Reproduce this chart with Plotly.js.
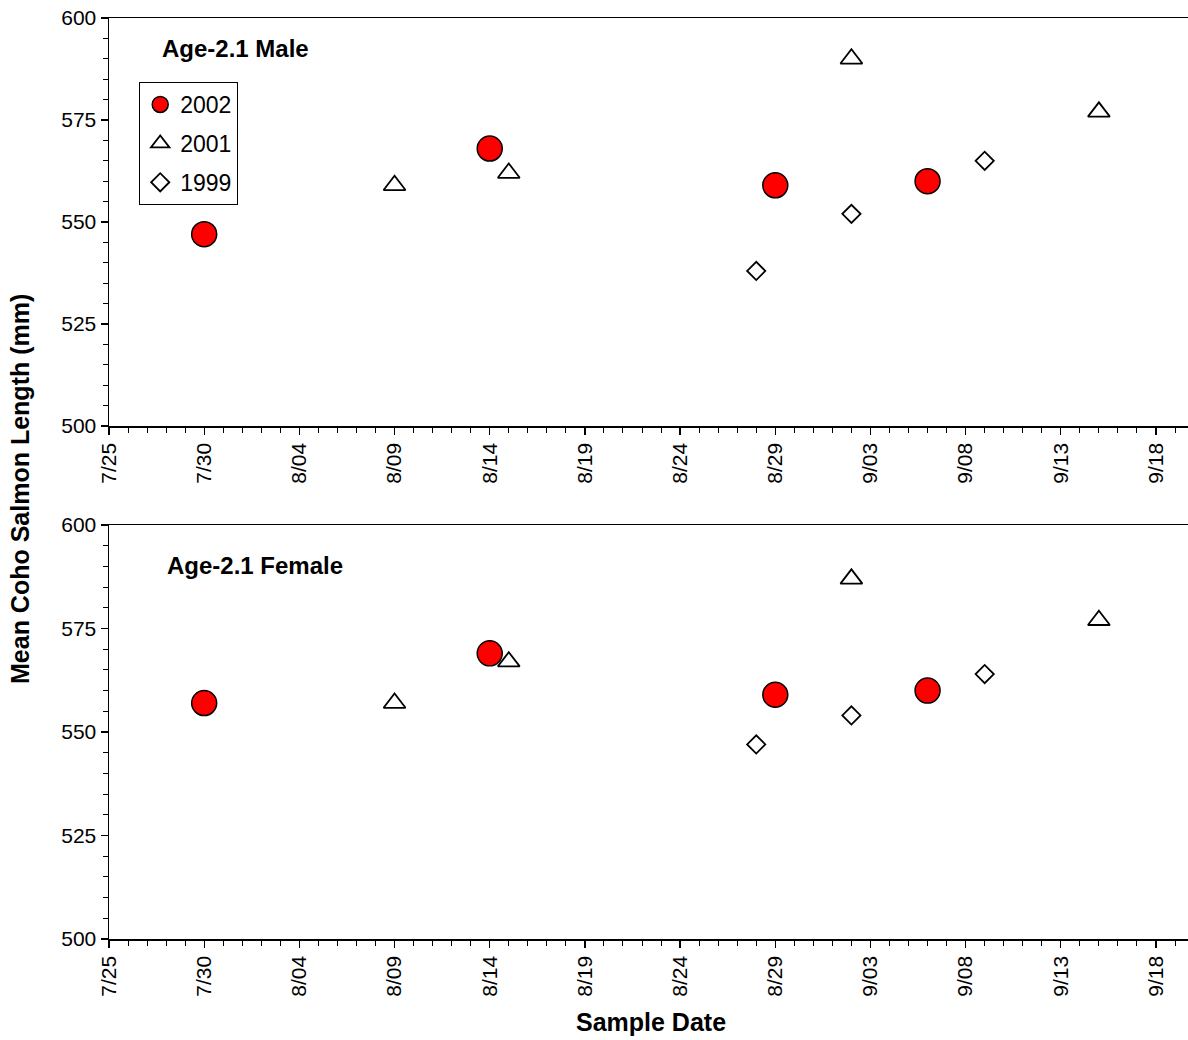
<!DOCTYPE html>
<html>
<head>
<meta charset="utf-8">
<script src="https://cdn.plot.ly/plotly-3.0.1.min.js"></script>
<style>html,body{margin:0;padding:0;background:#fff;}#chart{width:1188px;height:1040px;}</style>
</head>
<body>
<div id="chart"></div>
<script>
// ---- Data (sample dates plotted on a common calendar, year 2002 used as reference) ----
const dates2002 = ['2002-07-30', '2002-08-14', '2002-08-29', '2002-09-06'];
const dates2001 = ['2002-08-09', '2002-08-15', '2002-09-02', '2002-09-15'];
const dates1999 = ['2002-08-28', '2002-09-02', '2002-09-09'];

const male2002 = [547, 568, 559, 560];
const male2001 = [559, 562, 590, 577];
const male1999 = [538, 552, 565];

const female2002 = [557, 569, 559, 560];
const female2001 = [557, 567, 587, 577];
const female1999 = [547, 554, 564];

const seriesNames = ['2002', '2001', '1999'];
const panelLabels = ['Age-2.1 Male', 'Age-2.1 Female'];
const yTitle = 'Mean Coho Salmon Length (mm)';
const xTitle = 'Sample Date';

const FONT = 'Arial, "Liberation Sans", sans-serif';
const DAY = 86400000;

const mk = {
  '2002': {symbol: 'circle', size: 25, color: '#ff0000', line: {color: '#000', width: 1.5}},
  '2001': {symbol: 'triangle-up-open', size: 19, color: '#000', line: {color: '#000', width: 1.8}},
  '1999': {symbol: 'diamond-open', size: 14, color: '#000', line: {color: '#000', width: 1.8}}
};

function tr(x, y, name, xa, ya, show) {
  return {x: x, y: y, name: name, type: 'scatter', mode: 'markers',
    xaxis: xa, yaxis: ya, marker: mk[name], showlegend: show,
    legendgroup: name, cliponaxis: false};
}

const data = [
  tr(dates2002, male2002, seriesNames[0], 'x', 'y', true),
  tr(dates2001, male2001, seriesNames[1], 'x', 'y', true),
  tr(dates1999, male1999, seriesNames[2], 'x', 'y', true),
  tr(dates2002, female2002, seriesNames[0], 'x2', 'y2', false),
  tr(dates2001, female2001, seriesNames[1], 'x2', 'y2', false),
  tr(dates1999, female1999, seriesNames[2], 'x2', 'y2', false)
];

const xRange = ['2002-07-25', '2002-09-19 16:20'];
const topDom = [0.557, 1];
const botDom = [0, 0.4495];

function xAx(anchor, extra) {
  return Object.assign({
    type: 'date', range: xRange, anchor: anchor,
    tick0: '2002-07-25', dtick: 5 * DAY, tickformat: '%-m/%d', tickangle: -90,
    ticks: 'outside', ticklen: 7, tickwidth: 1.2, tickcolor: '#000',
    showline: true, linecolor: '#000', linewidth: 1.5, mirror: true,
    showgrid: false, zeroline: false,
    tickfont: {family: FONT, size: 21, color: '#000'},
    minor: {tick0: '2002-07-25', dtick: DAY, ticks: 'outside', ticklen: 5, tickwidth: 1, tickcolor: '#000', showgrid: false}
  }, extra || {});
}
function yAx(anchor, dom, extra) {
  return Object.assign({
    range: [500, 600], domain: dom, anchor: anchor,
    tick0: 500, dtick: 25, ticks: 'outside', ticklen: 7, tickwidth: 1.2, tickcolor: '#000',
    showline: true, linecolor: '#000', linewidth: 1.5, mirror: false,
    showgrid: false, zeroline: false,
    tickfont: {family: FONT, size: 21, color: '#000'},
    minor: {tick0: 500, dtick: 5, ticks: 'outside', ticklen: 5, tickwidth: 1, tickcolor: '#000', showgrid: false}
  }, extra || {});
}
function innerX(over, anchor) {
  return {type: 'date', range: xRange, overlaying: over, anchor: anchor,
    tick0: '2002-07-25', dtick: 5 * DAY, ticks: 'inside', ticklen: 7, tickwidth: 1.2,
    tickcolor: '#000', showticklabels: false, showline: false, showgrid: false, zeroline: false};
}
function innerY(over, anchor) {
  return {range: [500, 600], overlaying: over, anchor: anchor,
    tick0: 500, dtick: 25, ticks: 'inside', ticklen: 7, tickwidth: 1.2,
    tickcolor: '#000', showticklabels: false, showline: false, showgrid: false, zeroline: false};
}

const layout = {
  width: 1188, height: 1040,
  margin: {l: 109, r: 0, t: 18, b: 101},
  paper_bgcolor: '#fff', plot_bgcolor: 'rgba(0,0,0,0)',
  font: {family: FONT, color: '#000'},
  xaxis: xAx('y', {domain: [0, 1]}),
  yaxis: yAx('x', topDom),
  xaxis2: xAx('y2', {domain: [0, 1]}),
  yaxis2: yAx('x2', botDom),
  xaxis3: innerX('x', 'y'),
  yaxis3: innerY('y', 'x'),
  xaxis4: innerX('x2', 'y2'),
  yaxis4: innerY('y2', 'x2'),
  showlegend: true,
  legend: {
    x: 0.028, y: 0.9305, xanchor: 'left', yanchor: 'top',
    bordercolor: '#000', borderwidth: 1, bgcolor: '#fff',
    font: {family: FONT, size: 23, color: '#000'},
    traceorder: 'grouped', tracegroupgap: 6, itemwidth: 30
  },
  annotations: [
    {text: '<b>' + panelLabels[0] + '</b>', xref: 'paper', yref: 'paper', x: 0.0473, y: 0.9674,
      xanchor: 'left', yanchor: 'middle', showarrow: false, font: {family: FONT, size: 24, color: '#000'}},
    {text: '<b>' + panelLabels[1] + '</b>', xref: 'paper', yref: 'paper', x: 0.052, y: 0.406,
      xanchor: 'left', yanchor: 'middle', showarrow: false, font: {family: FONT, size: 24, color: '#000'}},
    {text: '<b>' + yTitle + '</b>', xref: 'paper', yref: 'paper', x: -0.0825, y: 0.4886, textangle: -90,
      xanchor: 'center', yanchor: 'middle', showarrow: false, font: {family: FONT, size: 25, color: '#000'}},
    {text: '<b>' + xTitle + '</b>', xref: 'paper', yref: 'paper', x: 0.502, y: -0.090,
      xanchor: 'center', yanchor: 'middle', showarrow: false, font: {family: FONT, size: 25, color: '#000'}}
  ]
};

Plotly.newPlot('chart', data, layout, {displayModeBar: false, staticPlot: true});
</script>
</body>
</html>
